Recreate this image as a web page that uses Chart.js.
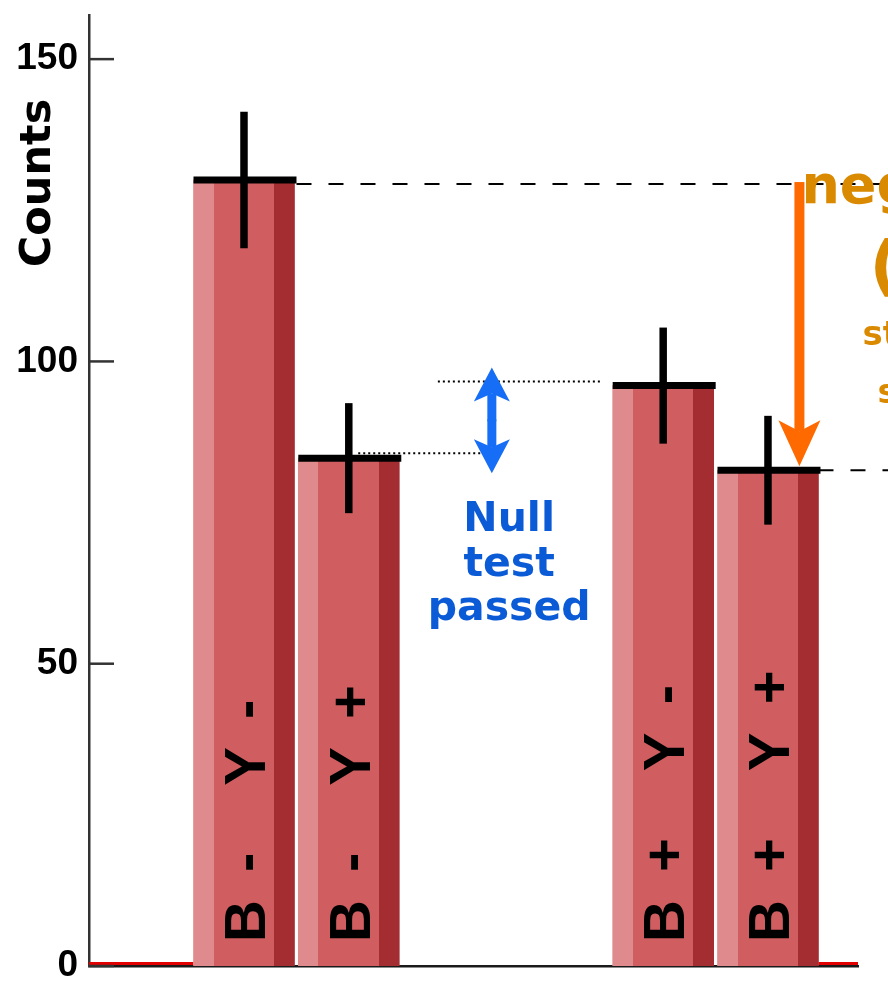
<!DOCTYPE html>
<html>
<head>
<meta charset="utf-8">
<title>Counts by B and Y sign</title>
<script src="https://cdn.jsdelivr.net/npm/chart.js@4.4.1/dist/chart.umd.min.js"></script>
<style>
  html, body { margin: 0; padding: 0; background: #ffffff; }
  #wrap { width: 888px; height: 984px; }
</style>
</head>
<body>
<div id="wrap"><canvas id="chart" width="888" height="984"></canvas></div>
<script>
// Event counts for each field/sign configuration
const categories = ['B - Y -', 'B - Y +', 'B + Y -', 'B + Y +'];
const positions  = [1, 2, 5, 6];          // bar centres on the x axis
const counts     = [130, 84, 96, 82];
const errors     = [11.3, 9.1, 9.6, 9.0]; // statistical uncertainty
const yTicks     = [0, 50, 100, 150];

const BAR_W = 101;
const SHADE = { light: '#df8b8d', mid: '#d05e60', dark: '#a32d31' };

// three-tone fill across each bar, left light / right dark
function barFill(ctx) {
  const chart = ctx.chart;
  const xs = chart.scales && chart.scales.x;
  if (!xs || ctx.type !== 'data' || !isFinite(xs.getPixelForValue(positions[ctx.dataIndex]))) return SHADE.mid;
  const cx = xs.getPixelForValue(positions[ctx.dataIndex]);
  const l = cx - BAR_W / 2, r = cx + BAR_W / 2;
  const g = chart.ctx.createLinearGradient(l, 0, r, 0);
  g.addColorStop(0, SHADE.light);  g.addColorStop(0.2, SHADE.light);
  g.addColorStop(0.2, SHADE.mid);  g.addColorStop(0.8, SHADE.mid);
  g.addColorStop(0.8, SHADE.dark); g.addColorStop(1, SHADE.dark);
  return g;
}

function arrow(ctx, x, fromY, toY, shaftW, headLen, headHalf, notch, color) {
  const dir = toY > fromY ? 1 : -1;
  ctx.fillStyle = color;
  const joinY = toY - dir * (headLen - notch);
  ctx.fillRect(x - shaftW / 2, Math.min(fromY, joinY), shaftW, Math.abs(joinY - fromY));
  ctx.beginPath();
  ctx.moveTo(x, toY);
  ctx.lineTo(x + headHalf, toY - dir * headLen);
  ctx.lineTo(x, toY - dir * (headLen - notch));
  ctx.lineTo(x - headHalf, toY - dir * headLen);
  ctx.closePath();
  ctx.fill();
}

function doubleArrow(ctx, x, topY, botY, shaftW, headLen, headHalf, notch, color) {
  const mid = (topY + botY) / 2;
  arrow(ctx, x, mid + 1, topY, shaftW, headLen, headHalf, notch, color);
  arrow(ctx, x, mid - 1, botY, shaftW, headLen, headHalf, notch, color);
}

function line(ctx, x1, y1, x2, y2, w, color, dash) {
  ctx.save();
  ctx.beginPath();
  ctx.lineWidth = w;
  ctx.strokeStyle = color;
  ctx.setLineDash(dash || []);
  ctx.moveTo(x1, y1);
  ctx.lineTo(x2, y2);
  ctx.stroke();
  ctx.restore();
}

// baseline, tick marks, error bars, labels and annotations
const decorations = {
  id: 'decorations',
  beforeDatasetsDraw(chart) {
    const ctx = chart.ctx, area = chart.chartArea;
    const ys = chart.scales.y;
    const bars = chart.getDatasetMeta(0).data;
    const y0 = ys.getPixelForValue(0) - 2.5;
    const first = bars[0], last = bars[bars.length - 1];
    line(ctx, area.left, y0, first.x - first.width / 2, y0, 3, '#e30000');
    line(ctx, last.x + last.width / 2, y0, area.right, y0, 3, '#e30000');
  },
  afterDatasetsDraw(chart) {
    const ctx = chart.ctx, area = chart.chartArea;
    const xs = chart.scales.x, ys = chart.scales.y;
    const bars = chart.getDatasetMeta(0).data;

    // inward tick marks on the count axis
    yTicks.forEach(v => {
      const y = ys.getPixelForValue(v);
      line(ctx, area.left, y, area.left + 25, y, 2.5, '#333333');
    });

    // reference lines
    const b0 = bars[0], b3 = bars[3];
    line(ctx, b0.x + b0.width / 2 + 2, ys.getPixelForValue(counts[0]) + 4, chart.width, ys.getPixelForValue(counts[0]) + 4, 2, '#000', [15, 17]);
    line(ctx, b3.x + b3.width / 2, ys.getPixelForValue(counts[3]), chart.width, ys.getPixelForValue(counts[3]), 2, '#000', [15, 17]);
    line(ctx, xs.getPixelForValue(2.85), ys.getPixelForValue(counts[2]) - 4, xs.getPixelForValue(4.42), ys.getPixelForValue(counts[2]) - 4, 2, '#000', [2, 3]);
    line(ctx, xs.getPixelForValue(2.09), ys.getPixelForValue(counts[1]) - 5, xs.getPixelForValue(3.28), ys.getPixelForValue(counts[1]) - 5, 2, '#000', [2, 3]);

    // bar tops and error bars
    bars.forEach((el, i) => {
      const yTop = ys.getPixelForValue(counts[i]);
      line(ctx, el.x - el.width / 2, yTop, el.x + el.width / 2 + 2, yTop, 7, '#000');
      line(ctx, el.x, ys.getPixelForValue(counts[i] + errors[i]), el.x, ys.getPixelForValue(counts[i] - errors[i]), 7.5, '#000');
    });

    // configuration labels written up each bar
    ctx.save();
    ctx.fillStyle = '#000';
    ctx.font = 'bold 58px "Liberation Sans", Arial, sans-serif';
    ctx.textBaseline = 'alphabetic';
    ctx.textAlign = 'left';
    if ('letterSpacing' in ctx) ctx.letterSpacing = '6px';
    bars.forEach((el, i) => {
      const base = ys.getPixelForValue(0);
      const first = categories[i].slice(0, 3);
      const second = categories[i].slice(4);
      ctx.save();
      ctx.translate(el.x, base);
      ctx.rotate(-Math.PI / 2);
      const off1 = 24;
      ctx.fillText(first, off1, 0.358 * 58);
      const off2 = off1 + ctx.measureText(first).width + 61;
      ctx.fillText(second, off2, 0.358 * 58);
      ctx.restore();
    });
    if ('letterSpacing' in ctx) ctx.letterSpacing = '0px';
    ctx.restore();

    // null test annotation
    const nx = xs.getPixelForValue(3.365);
    doubleArrow(ctx, nx, ys.getPixelForValue(99), ys.getPixelForValue(81.5), 9, 34, 18, 8, '#176ef6');
    ctx.save();
    ctx.fillStyle = '#0b5ad6';
    ctx.font = 'bold 41px "DejaVu Sans", sans-serif';
    ctx.textAlign = 'center';
    ctx.textBaseline = 'alphabetic';
    const tx = xs.getPixelForValue(3.53);
    ctx.fillText('Null', tx, 531);
    ctx.fillText('test', tx, 576);
    ctx.fillText('passed', tx, 620);
    ctx.restore();

    // asymmetry annotation
    const ox = xs.getPixelForValue(6.30);
    arrow(ctx, ox, ys.getPixelForValue(counts[0]) + 2, ys.getPixelForValue(counts[3]) - 4, 10, 46, 21, 11, '#ff6a00');
    ctx.save();
    ctx.fillStyle = '#d98a00';
    ctx.textAlign = 'left';
    ctx.textBaseline = 'alphabetic';
    ctx.font = 'bold 54px "DejaVu Sans", sans-serif';
    ctx.fillText('negative', ox + 2, 203);
    ctx.font = 'bold 66px "DejaVu Sans", sans-serif';
    ctx.fillText('(~2σ)', ox + 70, 288);
    ctx.font = 'bold 34px "DejaVu Sans", sans-serif';
    ctx.fillText('statistically', ox + 63, 345);
    ctx.fillText('significant', ox + 78, 403);
    ctx.restore();

    // axis title
    ctx.save();
    ctx.fillStyle = '#000';
    ctx.font = 'bold 43px "DejaVu Sans", sans-serif';
    ctx.textAlign = 'center';
    ctx.textBaseline = 'alphabetic';
    ctx.translate(50, 183);
    ctx.rotate(-Math.PI / 2);
    ctx.fillText('Counts', 0, 0);
    ctx.restore();
  }
};

function noEdgePadding(s) {
  s.paddingTop = 0; s.paddingBottom = 0; s.paddingLeft = 0; s.paddingRight = 0;
}

new Chart(document.getElementById('chart'), {
  type: 'bar',
  data: {
    labels: categories,
    datasets: [{
      data: positions.map((p, i) => ({ x: p, y: counts[i] })),
      backgroundColor: barFill,
      borderWidth: 0,
      barThickness: BAR_W
    }]
  },
  options: {
    responsive: false,
    animation: false,
    layout: { padding: { top: 15, right: 30, bottom: 18, left: 0 } },
    plugins: { legend: { display: false }, tooltip: { enabled: false } },
    scales: {
      x: {
        type: 'linear',
        offset: false,
        min: -0.479,
        max: 6.859,
        ticks: { display: false },
        grid: { display: false, drawTicks: false },
        border: { display: true, color: '#1a1a1a', width: 2.5 },
        afterFit(s) { s.height = 0; noEdgePadding(s); }
      },
      y: {
        min: 0,
        max: 157.3,
        afterBuildTicks(s) { s.ticks = yTicks.map(v => ({ value: v })); },
        ticks: {
          color: '#000',
          padding: 11,
          font: { family: '"Liberation Sans", Arial, sans-serif', weight: 'bold', size: 37 }
        },
        grid: { display: false, drawTicks: false },
        border: { display: true, color: '#333333', width: 2.5 },
        afterFit(s) { s.width = 89; noEdgePadding(s); }
      }
    }
  },
  plugins: [decorations]
});
</script>
</body>
</html>
